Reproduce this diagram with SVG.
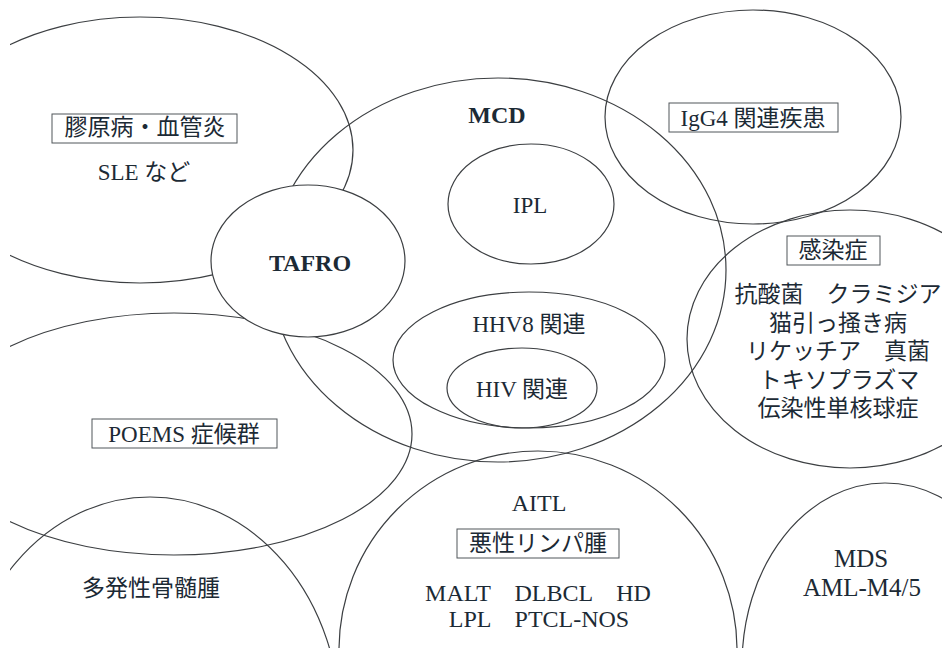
<svg xmlns="http://www.w3.org/2000/svg" width="942" height="648" viewBox="0 0 942 648">
<style>
.ring{fill:none;stroke:#3c3f42;stroke-width:1.2}
.solid{fill:#ffffff;stroke:#3c3f42;stroke-width:1.2}
.box{fill:#ffffff;stroke:#50565a;stroke-width:1}
.t{font-family:"Liberation Serif","Noto Sans CJK JP",serif;font-size:23px;fill:#1c2a35;text-anchor:middle}
.b{font-weight:bold;font-size:24px}
.l{font-size:24px}
.m{font-size:25px}
</style>
<defs>
<clipPath id="page"><rect x="10" y="0" width="932" height="648"/></clipPath>
</defs>
<rect x="0" y="0" width="942" height="648" fill="#ffffff"/>
<g clip-path="url(#page)">
<g id="collagen"><ellipse class="ring" cx="140" cy="150" rx="213" ry="133"/></g>
<g id="mcd"><ellipse class="ring" cx="498" cy="270" rx="228" ry="192"/></g>
<g id="ipl"><ellipse class="ring" cx="531" cy="204" rx="83" ry="60"/></g>
<g id="hhv8"><ellipse class="ring" cx="529" cy="360" rx="136" ry="68"/></g>
<g id="hiv"><ellipse class="ring" cx="522" cy="388" rx="75" ry="40"/></g>
<g id="igg4"><ellipse class="ring" cx="753" cy="117" rx="148" ry="107"/></g>
<g id="infection"><ellipse class="ring" cx="850" cy="339" rx="163" ry="129"/></g>
<g id="poems"><ellipse class="ring" cx="174" cy="434" rx="238" ry="121"/></g>
<g id="myeloma"><ellipse class="ring" cx="150" cy="722" rx="190" ry="225"/></g>
<g id="lymphoma"><ellipse class="ring" cx="538" cy="650" rx="199" ry="199"/></g>
<g id="mds"><ellipse class="ring" cx="885" cy="665" rx="143" ry="182"/></g>
<g id="tafro"><ellipse class="solid" cx="308" cy="261" rx="97" ry="76"/></g>
</g>
<g id="connectors"></g>
<g id="labels">
<g id="collagen-label">
<rect class="box" x="52" y="114" width="185" height="29"/>
<text class="t" x="145" y="135">膠原病・血管炎</text>
<text class="t" x="144" y="180">SLE など</text>
</g>
<g id="tafro-label"><text class="t b" x="310" y="271">TAFRO</text></g>
<g id="mcd-label"><text class="t b" x="497" y="123">MCD</text></g>
<g id="ipl-label"><text class="t" x="530" y="213">IPL</text></g>
<g id="hhv8-label"><text class="t" x="529" y="332">HHV8 関連</text></g>
<g id="hiv-label"><text class="t" x="522" y="397">HIV 関連</text></g>
<g id="igg4-label">
<rect class="box" x="669" y="103" width="169" height="29"/>
<text class="t" x="753" y="126">IgG4 関連疾患</text>
</g>
<g id="infection-label">
<rect class="box" x="787" y="236" width="93" height="29"/>
<text class="t" x="833" y="258">感染症</text>
<text class="t" x="838" y="302">抗酸菌　クラミジア</text>
<text class="t" x="838" y="331">猫引っ掻き病</text>
<text class="t" x="838" y="359">リケッチア　真菌</text>
<text class="t" x="839" y="388">トキソプラズマ</text>
<text class="t" x="838" y="416">伝染性単核球症</text>
</g>
<g id="poems-label">
<rect class="box" x="92" y="419" width="185" height="29"/>
<text class="t" x="184" y="442">POEMS 症候群</text>
</g>
<g id="myeloma-label"><text class="t" x="151" y="596">多発性骨髄腫</text></g>
<g id="lymphoma-label">
<text class="t l" x="539" y="511">AITL</text>
<rect class="box" x="457" y="529" width="162" height="29"/>
<text class="t" x="538" y="551">悪性リンパ腫</text>
<text class="t l" x="538" y="601">MALT　DLBCL　HD</text>
<text class="t l" x="539" y="627">LPL　PTCL-NOS</text>
</g>
<g id="mds-label">
<text class="t m" x="861" y="567">MDS</text>
<text class="t m" x="862" y="596">AML-M4/5</text>
</g>
</g>
</svg>
